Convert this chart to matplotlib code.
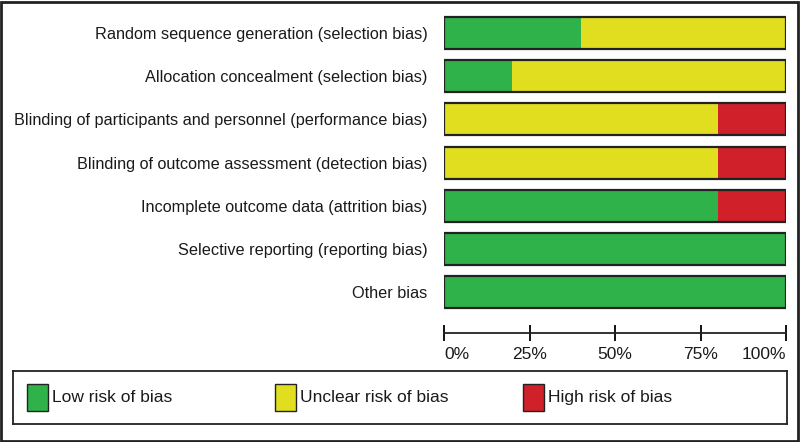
import matplotlib
matplotlib.use("Agg")
import matplotlib.pyplot as plt
from matplotlib.patches import Rectangle
import numpy as np

plt.rcParams['font.family'] = ['Liberation Sans', 'DejaVu Sans']

domains = [
    "Random sequence generation (selection bias)",
    "Allocation concealment (selection bias)",
    "Blinding of participants and personnel (performance bias)",
    "Blinding of outcome assessment (detection bias)",
    "Incomplete outcome data (attrition bias)",
    "Selective reporting (reporting bias)",
    "Other bias",
]
low = [40, 20, 0, 0, 80, 100, 100]
unclear = [60, 80, 80, 80, 0, 0, 0]
high = [0, 0, 20, 20, 20, 0, 0]

legend_labels = ["Low risk of bias", "Unclear risk of bias", "High risk of bias"]
colors = ["#2FB24A", "#E0DE1E", "#D0202A"]
ticks = [0, 25, 50, 75, 100]
tick_labels = ["0%", "25%", "50%", "75%", "100%"]

W, H = 800, 442
fig = plt.figure(figsize=(8, 4.42), dpi=100)

# outer frame
fig.patches.append(Rectangle((1 / W, 1 / H), 1 - 3 / W, 1 - 3 / H, transform=fig.transFigure,
                             fill=False, edgecolor="#222222", linewidth=2))

# main bar axes
ax = fig.add_axes([444 / W, 1 - 333 / H, 342 / W, 321 / H])
y = np.arange(len(domains))
left = np.zeros(len(domains))
for vals, col in zip([low, unclear, high], colors):
    ax.barh(y, vals, left=left, height=0.74, color=col, edgecolor="none")
    left = left + np.array(vals)
# outline each bar
ax.barh(y, 100, height=0.74, fill=False, edgecolor="#222222", linewidth=1.6)

ax.set_xlim(0, 100)
ax.set_ylim(6.95, -0.49)
ax.set_yticks(y)
ax.set_yticklabels(domains, fontsize=11.7, color="#1a1a1a")
ax.tick_params(axis="y", length=0, pad=12)
ax.set_xticks(ticks)
ax.set_xticklabels(tick_labels, fontsize=12.5, color="#1a1a1a")
ax.tick_params(axis="x", direction="inout", length=12, width=1.3, pad=4)
xl = ax.get_xticklabels()
xl[0].set_ha("left")
xl[-1].set_ha("right")
for s in ["top", "left", "right"]:
    ax.spines[s].set_visible(False)
ax.spines["bottom"].set_linewidth(1.3)
ax.spines["bottom"].set_color("#222222")

# legend box
lax = fig.add_axes([13 / W, 1 - 424 / H, 774 / W, 53 / H])
lax.set_xlim(0, 774)
lax.set_ylim(0, 53)
lax.set_xticks([])
lax.set_yticks([])
for s in lax.spines.values():
    s.set_linewidth(1.3)
    s.set_color("#222222")
for i, (lab, col) in enumerate(zip(legend_labels, colors)):
    x0 = 14 + i * 248
    lax.add_patch(Rectangle((x0, 13), 21, 27, facecolor=col, edgecolor="#222222", linewidth=1))
    lax.text(x0 + 25, 26.5, lab, fontsize=12.5, va="center", ha="left", color="#1a1a1a")

fig.savefig("out.png", dpi=100)
